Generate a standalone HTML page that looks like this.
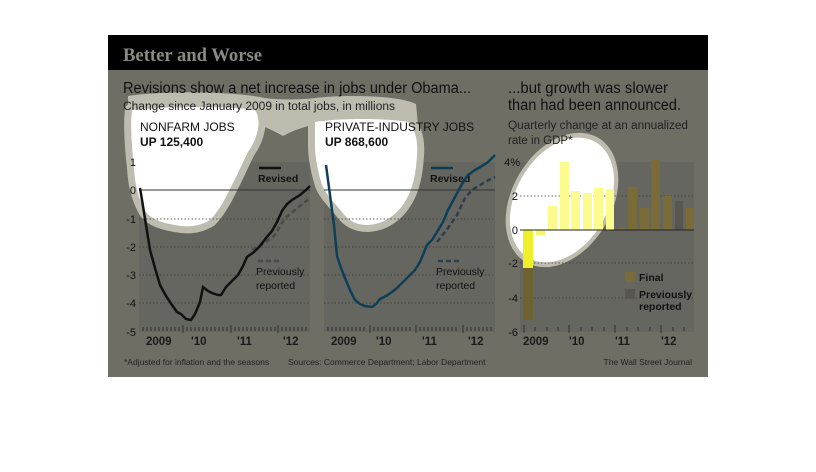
<!DOCTYPE html>
<html><head><meta charset="utf-8"><style>
html,body{margin:0;padding:0;background:#fff;}
svg{display:block;font-family:"Liberation Sans",sans-serif;}
</style></head><body>
<svg width="816" height="472" viewBox="0 0 816 472">
<defs>
<path id="L1" d="M132,110 C170,106 230,106 255,110 C262,120 258,138 248,152 C240,168 236,178 232,185 C225,200 218,212 210,220 C200,226 190,227 182,226 C165,224 152,220 146,212 C138,198 135,185 134,168 C132,150 130,125 132,110 Z"/>
<path id="L2" d="M315,122 C340,118 385,118 408,122 C416,130 418,142 417,155 C416,175 412,190 406,200 C398,214 385,224 368,225 C355,225 348,220 342,212 C334,202 326,195 322,185 C318,172 315,158 315,145 Z"/>
</defs>
<rect x="0" y="0" width="816" height="472" fill="#fff"/>
<rect x="108" y="35" width="600" height="35" fill="#000"/>
<text x="123" y="61" font-family="Liberation Serif,serif" font-weight="bold" font-size="19" fill="#8a8a85" textLength="139" lengthAdjust="spacingAndGlyphs">Better and Worse</text>
<rect x="108" y="70" width="600" height="307" fill="#6f6e65"/>
<rect x="139" y="162" width="171" height="170" fill="#666661"/>
<rect x="324" y="162" width="171" height="170" fill="#666661"/>
<rect x="520" y="162" width="174" height="170" fill="#666661"/>
<!-- goggles rim -->
<use href="#L1" fill="#bdbcaf" stroke="#bdbcaf" stroke-width="14" stroke-linejoin="round"/>
<use href="#L2" fill="#bdbcaf" stroke="#bdbcaf" stroke-width="14" stroke-linejoin="round"/>
<path d="M128,96 C170,90 230,92 260,97 C272,100 300,100 315,98 C350,94 400,96 416,104 L418,125 L312,125 C300,128 290,132 283,136 C276,132 268,128 260,125 L128,112 Z" fill="#bdbcaf"/>
<use href="#L1" fill="#fff"/>
<use href="#L2" fill="#fff"/>
<!-- right spotlight -->
<ellipse cx="562" cy="200" rx="50" ry="72" transform="rotate(30 562 200)" fill="#bdbcaf"/>
<ellipse cx="562" cy="200" rx="46" ry="67" transform="rotate(30 562 200)" fill="#fff"/>
<!-- titles -->
<text x="123" y="93" font-size="15.5" fill="#111" textLength="348" lengthAdjust="spacingAndGlyphs">Revisions show a net increase in jobs under Obama...</text>
<text x="123" y="110" font-size="11.5" fill="#222" textLength="272" lengthAdjust="spacingAndGlyphs">Change since January 2009 in total jobs, in millions</text>
<text x="140" y="131" font-size="12" fill="#111">NONFARM JOBS</text>
<text x="140" y="146" font-size="12" font-weight="bold" fill="#111">UP 125,400</text>
<text x="325" y="131" font-size="12" fill="#111">PRIVATE-INDUSTRY JOBS</text>
<text x="325" y="146" font-size="12" font-weight="bold" fill="#111">UP 868,600</text>
<text x="508" y="93" font-size="15.5" fill="#111" textLength="160" lengthAdjust="spacingAndGlyphs">...but growth was slower</text>
<text x="508" y="110" font-size="15.5" fill="#111" textLength="173" lengthAdjust="spacingAndGlyphs">than had been announced.</text>
<text x="508" y="129" font-size="11.5" fill="#222" textLength="180" lengthAdjust="spacingAndGlyphs">Quarterly change at an annualized</text>
<text x="508" y="144" font-size="11.5" fill="#222">rate in GDP*</text>
<!-- gridlines -->
<g stroke="#3a3a36" stroke-width="0.8" stroke-dasharray="1.5,2">
<line x1="139" y1="219" x2="310" y2="219"/><line x1="139" y1="247" x2="310" y2="247"/><line x1="139" y1="275" x2="310" y2="275"/><line x1="139" y1="303" x2="310" y2="303"/>
<line x1="324" y1="219" x2="495" y2="219"/><line x1="324" y1="247" x2="495" y2="247"/><line x1="324" y1="275" x2="495" y2="275"/><line x1="324" y1="303" x2="495" y2="303"/>
<line x1="520" y1="196" x2="694" y2="196"/><line x1="520" y1="263" x2="694" y2="263"/><line x1="520" y1="298" x2="694" y2="298"/>
</g>
<line x1="139" y1="190" x2="310" y2="190" stroke="#333" stroke-width="1"/>
<line x1="324" y1="190" x2="495" y2="190" stroke="#333" stroke-width="1"/>
<g font-size="11" fill="#111" text-anchor="end">
<text x="136" y="166">1</text><text x="136" y="194">0</text><text x="136" y="223">-1</text><text x="136" y="251">-2</text><text x="136" y="279">-3</text><text x="136" y="307">-4</text><text x="136" y="336">-5</text>
<text x="520" y="166">4%</text><text x="518" y="200">2</text><text x="518" y="234">0</text><text x="518" y="267">-2</text><text x="518" y="302">-4</text><text x="518" y="336">-6</text>
</g>
<g stroke="#222" stroke-width="0.8">
<path d="M143,331v-4M147,331v-4M151,331v-4M155,331v-4M159,331v-4M163,331v-4M167,331v-4M171,331v-4M175,331v-4M179,331v-4M183,333v-8M187,331v-4M191,331v-4M195,331v-4M199,331v-4M203,331v-4M207,331v-4M211,331v-4M215,331v-4M219,331v-4M223,331v-4M227,331v-4M231,333v-8M235,331v-4M239,331v-4M243,331v-4M247,331v-4M251,331v-4M255,331v-4M259,331v-4M263,331v-4M267,331v-4M271,331v-4M275,331v-4M278,333v-8M282,331v-4M286,331v-4M290,331v-4M294,331v-4M298,331v-4M302,331v-4M306,331v-4"/>
<path d="M328,331v-4M332,331v-4M336,331v-4M340,331v-4M344,331v-4M348,331v-4M352,331v-4M356,331v-4M360,331v-4M364,331v-4M370,333v-8M374,331v-4M378,331v-4M382,331v-4M386,331v-4M390,331v-4M394,331v-4M398,331v-4M402,331v-4M406,331v-4M410,331v-4M416,333v-8M420,331v-4M424,331v-4M428,331v-4M432,331v-4M436,331v-4M440,331v-4M444,331v-4M448,331v-4M452,331v-4M456,331v-4M463,333v-8M467,331v-4M471,331v-4M475,331v-4M479,331v-4M483,331v-4M487,331v-4M491,331v-4"/>
<path d="M524,333v-8M535,331v-4M547,331v-4M558,331v-4M569,333v-8M581,331v-4M592,331v-4M604,331v-4M615,333v-8M627,331v-4M638,331v-4M650,331v-4M661,333v-8M673,331v-4M684,331v-4"/>
</g>
<g font-size="11.5" font-weight="bold" fill="#1a1a1a">
<text x="146" y="345">2009</text><text x="191" y="345">'10</text><text x="237" y="345">'11</text><text x="283" y="345">'12</text>
<text x="331" y="345">2009</text><text x="376" y="345">'10</text><text x="422" y="345">'11</text><text x="468" y="345">'12</text>
<text x="523" y="345">2009</text><text x="569" y="345">'10</text><text x="615" y="345">'11</text><text x="661" y="345">'12</text>
</g>
<line x1="259" y1="168" x2="281" y2="168" stroke="#111" stroke-width="2.5"/>
<text x="258" y="182" font-size="10.5" font-weight="bold" fill="#111">Revised</text>
<line x1="431" y1="168" x2="453" y2="168" stroke="#0c3a50" stroke-width="2.5"/>
<text x="430" y="182" font-size="10.5" font-weight="bold" fill="#111">Revised</text>
<line x1="258" y1="261" x2="282" y2="261" stroke="#4a4a48" stroke-width="2.5" stroke-dasharray="5,3"/>
<text x="256" y="275" font-size="10.5" fill="#111">Previously</text><text x="256" y="289" font-size="10.5" fill="#111">reported</text>
<line x1="438" y1="261" x2="462" y2="261" stroke="#2e3e48" stroke-width="2.5" stroke-dasharray="5,3"/>
<text x="436" y="275" font-size="10.5" fill="#111">Previously</text><text x="436" y="289" font-size="10.5" fill="#111">reported</text>
<polyline fill="none" stroke="#4a4a48" stroke-width="2.5" stroke-dasharray="5,3" points="252,250 264,243 274,236 285,218 295,210 310,198"/>
<polyline fill="none" stroke="#111" stroke-width="2.5" points="140,188 142,200 146,225 150,250 155,268 160,285 166,296 172,305 177,312 181,314 186,319 191,320 195,314 200,302 203,287 208,291 212,293 218,295 221,295 226,287 232,281 238,275 243,266 247,257 254,252 260,246 266,238 272,231 277,222 282,211 287,204 292,200 300,195 306,190 310,186"/>
<polyline fill="none" stroke="#2e3e48" stroke-width="2.5" stroke-dasharray="5,3" points="437,242 448,228 457,215 465,198 472,190 485,182 495,177"/>
<polyline fill="none" stroke="#0d3f58" stroke-width="2.5" points="326,165 330,195 334,225 337,256 341,268 345,278 350,290 355,300 360,304 365,306 372,307 376,304 380,299 386,296 392,292 397,288 402,283 408,277 415,270 420,262 427,245 432,240 437,232 443,222 448,210 455,197 462,184 468,175 475,170 482,166 488,162 495,155"/>
<g>
<rect x="523" y="230" width="10" height="90" fill="#6e6230"/>
<rect x="523" y="230" width="10" height="38" fill="#f0f02a"/>
<rect x="536" y="230" width="9" height="5" fill="#f5f56a"/>
<rect x="548" y="206" width="9" height="24" fill="#fbfb8e"/>
<rect x="560" y="162" width="9" height="68" fill="#fbfb8e"/>
<rect x="571" y="191" width="9" height="39" fill="#fbfb8e"/>
<rect x="583" y="193" width="9" height="37" fill="#fbfb8e"/>
<rect x="594" y="188" width="9" height="42" fill="#fbfb8e"/>
<rect x="606" y="189" width="8" height="41" fill="#fbfb8e"/>
<rect x="618" y="228" width="8" height="2" fill="#7a6c38"/>
<rect x="628" y="187" width="9" height="43" fill="#7a6c38"/>
<rect x="640" y="208" width="9" height="22" fill="#7a6c38"/>
<rect x="651" y="160" width="9" height="70" fill="#7a6c38"/>
<rect x="663" y="196" width="9" height="34" fill="#7a6c38"/>
<rect x="675" y="201" width="8" height="29" fill="#57564f"/>
<rect x="686" y="208" width="8" height="22" fill="#7a6c38"/>
</g>
<line x1="520" y1="230" x2="694" y2="230" stroke="#222" stroke-width="1"/>
<rect x="625" y="272" width="10" height="10" fill="#7a6c38"/>
<text x="639" y="281" font-size="10.5" font-weight="bold" fill="#111">Final</text>
<rect x="625" y="289" width="10" height="10" fill="#57564f"/>
<text x="639" y="298" font-size="10.5" font-weight="bold" fill="#111">Previously</text>
<text x="639" y="310" font-size="10.5" font-weight="bold" fill="#111">reported</text>
<text x="124" y="365" font-size="8.5" fill="#222">*Adjusted for inflation and the seasons</text>
<text x="288" y="365" font-size="8.5" fill="#222">Sources: Commerce Department; Labor Department</text>
<text x="692" y="365" font-size="8.5" fill="#222" text-anchor="end">The Wall Street Journal</text>
</svg>
</body></html>
